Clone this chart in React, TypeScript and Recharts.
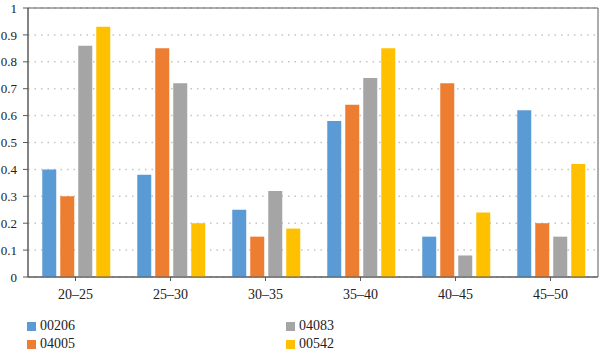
import React from "react";
import {
  BarChart,
  Bar,
  XAxis,
  YAxis,
  CartesianGrid,
  ReferenceArea,
} from "recharts";

const categories = ["20–25", "25–30", "30–35", "35–40", "40–45", "45–50"];
const s00206 = [0.4, 0.38, 0.25, 0.58, 0.15, 0.62];
const s04005 = [0.3, 0.85, 0.15, 0.64, 0.72, 0.2];
const s04083 = [0.86, 0.72, 0.32, 0.74, 0.08, 0.15];
const s00542 = [0.93, 0.2, 0.18, 0.85, 0.24, 0.42];
const yTicks = [0, 0.1, 0.2, 0.3, 0.4, 0.5, 0.6, 0.7, 0.8, 0.9, 1];

const seriesNames = ["00206", "04005", "04083", "00542"];
const seriesColors = ["#5B9BD5", "#ED7D31", "#A5A5A5", "#FFC000"];

const data = categories.map((c, i) => ({
  cat: c,
  "00206": s00206[i],
  "04005": s04005[i],
  "04083": s04083[i],
  "00542": s00542[i],
}));

const FONT = "Liberation Serif";

const legendPos = [
  { name: "00206", left: 27, top: 318 },
  { name: "04005", left: 27, top: 336 },
  { name: "04083", left: 286, top: 318 },
  { name: "00542", left: 286, top: 336 },
];

export default function App() {
  return (
    <div style={{ position: "absolute", left: 0, top: 0, width: 600, height: 353, background: "#fff", fontFamily: FONT }}>
      <BarChart
        width={600}
        height={353}
        data={data}
        margin={{ top: 8, right: 2, bottom: 56, left: 0 }}
        barCategoryGap="15%"
        barGap={4}
        style={{ fontFamily: FONT }}
      >
        <CartesianGrid
          vertical={false}
          stroke="#c4c4c4"
          strokeWidth={1.5}
          strokeDasharray="1.5 5"
        />
        <ReferenceArea y1={0} y2={1} fill="none" stroke="#5a5a5a" strokeWidth={1} ifOverflow="visible" />
        <XAxis
          dataKey="cat"
          height={20}
          tickSize={4}
          tickMargin={8}
          stroke="#5a5a5a"
          tick={{ fill: "#222", fontSize: 14, fontFamily: FONT }}
          tickLine={{ stroke: "#5a5a5a" }}
          axisLine={{ stroke: "#5a5a5a" }}
          interval={0}
        />
        <YAxis
          width={28}
          domain={[0, 1]}
          ticks={yTicks}
          tickSize={5}
          tickMargin={6}
          interval={0}
          stroke="#5a5a5a"
          tick={{ fill: "#222", fontSize: 13, fontFamily: FONT }}
          tickLine={{ stroke: "#5a5a5a" }}
          axisLine={{ stroke: "#5a5a5a" }}
        />
        {seriesNames.map((n, i) => (
          <Bar key={n} dataKey={n} fill={seriesColors[i]} isAnimationActive={false} />
        ))}
      </BarChart>
      {legendPos.map((l) => {
        const idx = seriesNames.indexOf(l.name);
        return (
          <div
            key={l.name}
            style={{
              position: "absolute",
              left: l.left,
              top: l.top,
              display: "flex",
              alignItems: "center",
              fontFamily: FONT,
              fontSize: 14,
              color: "#222",
              lineHeight: "16px",
            }}
          >
            <span
              style={{
                display: "inline-block",
                width: 9,
                height: 9,
                background: seriesColors[idx],
                marginRight: 4,
              }}
            />
            <span>{l.name}</span>
          </div>
        );
      })}
    </div>
  );
}
